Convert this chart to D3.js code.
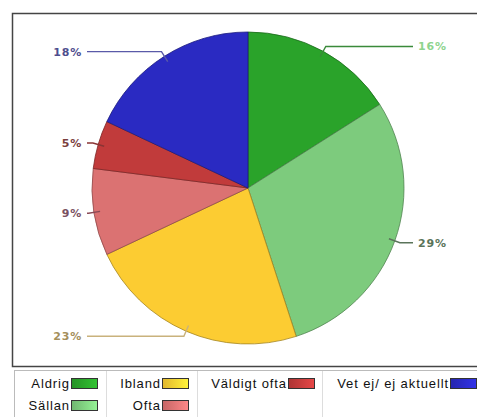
<!DOCTYPE html>
<html>
<head>
<meta charset="utf-8">
<script src="https://cdn.jsdelivr.net/npm/d3@7"></script>
<style>
  body { margin: 0; background: #fff; }
  svg { display: block; }
</style>
</head>
<body>
<script>
// Data:
const categories = ["Aldrig", "Sällan", "Ibland", "Ofta", "Väldigt ofta", "Vet ej/ ej aktuellt"];
const values = [16, 29, 23, 9, 5, 18];

// Styles:
const sliceColors = ["#2aa32a", "#7dcb7d", "#fccc32", "#db7272", "#c13b3b", "#2a2ac2"];
const labelColors = ["#8ed48e", "#5a745a", "#a48f5c", "#7a5262", "#7a3e3e", "#4e4e8e"];
const lineColors = ["#3a8a3a", "#5a745a", "#c9b27c", "#8a4a56", "#8a3434", "#5a5aa8"];

// Variable setup:
const width = 477;
const height = 417;
const cx = 248;
const cy = 188;
const radius = 156;

const svg = d3.select("body")
  .append("svg")
  .attr("width", width)
  .attr("height", height);

// Plot frame:
svg.append("rect")
  .attr("x", 12.5)
  .attr("y", 13.5)
  .attr("width", 480)
  .attr("height", 353)
  .attr("fill", "none")
  .attr("stroke", "#444")
  .attr("stroke-width", 1.5);

// Pie:
const pie = d3.pie().sort(null).value((d) => d);
const arcs = pie(values);
const arc = d3.arc().innerRadius(0).outerRadius(radius);

const g = svg.append("g").attr("transform", `translate(${cx}, ${cy})`);

g.selectAll("path")
  .data(arcs)
  .enter()
  .append("path")
  .attr("d", arc)
  .attr("fill", (d, i) => sliceColors[i])
  .attr("stroke", (d, i) => d3.color(sliceColors[i]).darker(1.2))
  .attr("stroke-width", 0.8);

// Labels with leader lines:
const inner = d3.arc().innerRadius(radius * 0.96).outerRadius(radius * 0.96);
const elbow = d3.arc().innerRadius(radius * 1.035).outerRadius(radius * 1.035);
const leftX = 87 - cx;
const rightX = 413 - cx;

arcs.forEach((d, i) => {
  const mid = (d.startAngle + d.endAngle) / 2;
  const a = inner.centroid(d);
  const b = elbow.centroid(d);
  const right = mid < Math.PI;
  const endX = right ? rightX : leftX;

  g.append("polyline")
    .attr("points", [a, b, [endX, b[1]]].map((p) => p.join(",")).join(" "))
    .attr("fill", "none")
    .attr("stroke", lineColors[i])
    .attr("stroke-width", 1.4);

  g.append("text")
    .attr("x", right ? endX + 5 : endX - 5)
    .attr("y", b[1])
    .attr("dy", "0.36em")
    .attr("text-anchor", right ? "start" : "end")
    .style("font-family", "'DejaVu Sans', Verdana, sans-serif")
    .style("font-weight", "bold")
    .style("font-size", "11px")
    .style("letter-spacing", "0.8px")
    .style("fill", labelColors[i])
    .text(`${values[i]}%`);
});

// Legend:
const legendCols = [[0, 1], [2, 3], [4], [5]];
const swatchX = [71, 162, 288, 450];
const sepX = [106, 197, 322];
const rowY = [378, 400];

svg.append("rect")
  .attr("x", 14.5)
  .attr("y", 370.5)
  .attr("width", 480)
  .attr("height", 60)
  .attr("fill", "none")
  .attr("stroke", "#bbb");

sepX.forEach((x) => {
  svg.append("line")
    .attr("x1", x + 0.5)
    .attr("x2", x + 0.5)
    .attr("y1", 371)
    .attr("y2", height)
    .attr("stroke", "#ddd");
});

const defs = svg.append("defs");
sliceColors.forEach((c, i) => {
  const grad = defs.append("linearGradient").attr("id", `sw${i}`);
  grad.append("stop").attr("offset", "0%").attr("stop-color", d3.color(c).darker(0.3));
  grad.append("stop").attr("offset", "100%").attr("stop-color", d3.color(c).brighter(0.5));
});

legendCols.forEach((col, ci) => {
  col.forEach((idx, ri) => {
    svg.append("rect")
      .attr("x", swatchX[ci] + 0.5)
      .attr("y", rowY[ri] + 0.5)
      .attr("width", 26)
      .attr("height", 10)
      .attr("fill", `url(#sw${idx})`)
      .attr("stroke", "#333");

    svg.append("text")
      .attr("x", swatchX[ci] - 1)
      .attr("y", rowY[ri] + 10)
      .attr("text-anchor", "end")
      .style("font-family", "'Liberation Sans', Arial, sans-serif")
      .style("font-size", "13px")
      .style("letter-spacing", "0.9px")
      .style("fill", "#111")
      .text(categories[idx]);
  });
});
</script>
</body>
</html>
